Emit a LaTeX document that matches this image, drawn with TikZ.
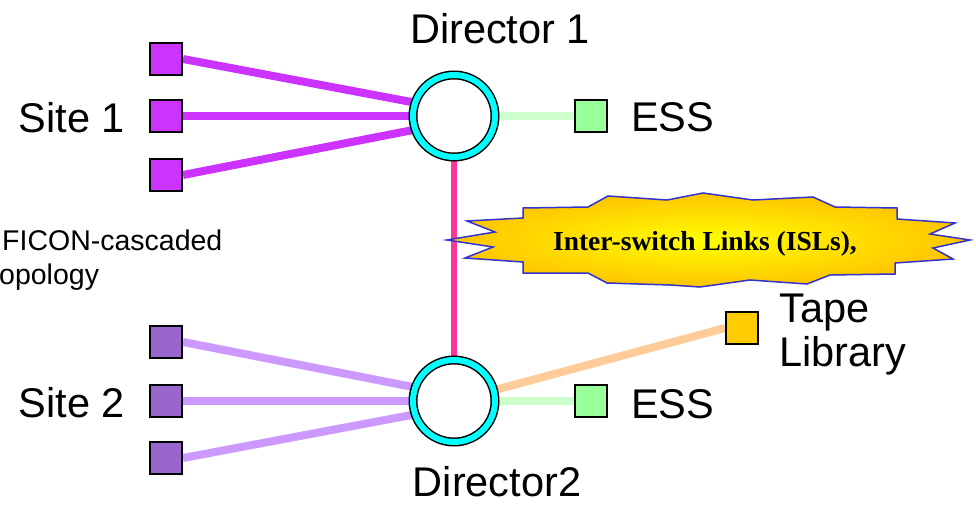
\documentclass[tikz,border=0pt]{standalone}
\usepackage{fontspec}
\setmainfont{Liberation Sans}
\newfontfamily\islfont{Liberation Serif}
\usepackage{tikz}
\usetikzlibrary{positioning}
\usetikzlibrary{backgrounds}
\definecolor{siteone}{RGB}{204,51,255}
\definecolor{sitetwo}{RGB}{153,102,204}
\definecolor{sitetwolink}{RGB}{204,153,255}
\definecolor{essfill}{RGB}{153,255,153}
\definecolor{esslink}{RGB}{204,255,204}
\definecolor{tapefill}{RGB}{255,204,0}
\definecolor{tapelink}{RGB}{255,204,153}
\definecolor{isllink}{RGB}{255,51,153}
\definecolor{ringcol}{RGB}{0,255,255}
\definecolor{starline}{RGB}{51,51,204}
\definecolor{starouter}{RGB}{255,196,0}
\definecolor{starinner}{RGB}{255,255,0}

\begin{document}
\begin{tikzpicture}[x=1pt,y=-1pt,
		port/.style={draw=black,line width=2pt,minimum size=32pt,inner sep=0pt},
		director/.style={circle,draw=black,line width=1.5pt,double=ringcol,double distance=6pt,
			fill=white,minimum size=82pt,inner sep=0pt},
		biglabel/.style={inner sep=0pt,font=\fontsize{41.5}{44}\selectfont},
		smalllabel/.style={inner sep=0pt,anchor=base west,font=\fontsize{28.5}{32}\selectfont},
		link/.style={line width=8pt}]
		\useasboundingbox (0,0) rectangle (976,505);
		
		% directors
		\node[director] (d1) at (454,116) {};
		\node[director] (d2) at (454,401) {};
		
		% site 1 and site 2 ports
		\node[port,fill=siteone] (s1a) at (166,59) {};
		\node[port,fill=siteone] (s1b) at (166,116) {};
		\node[port,fill=siteone] (s1c) at (166,175) {};
		\node[port,fill=sitetwo] (s2a) at (166,342) {};
		\node[port,fill=sitetwo] (s2b) at (166,401) {};
		\node[port,fill=sitetwo] (s2c) at (166,458) {};
		
		% storage
		\node[port,fill=essfill] (ess1) at (591,116) {};
		\node[port,fill=essfill] (ess2) at (591,401) {};
		\node[port,fill=tapefill] (tape) at (742,328) {};
		
		\begin{pgfonlayer}{background}
			\draw[link,siteone] (s1a.east) -- ([yshift=6pt]d1.center);
			\draw[link,siteone] (s1b.east) -- (d1.center);
			\draw[link,siteone] (s1c.east) -- ([yshift=-6pt]d1.center);
			\draw[link,sitetwolink] (s2a.east) -- ([yshift=6pt]d2.center);
			\draw[link,sitetwolink] (s2b.east) -- (d2.center);
			\draw[link,sitetwolink] (s2c.east) -- ([yshift=-6pt]d2.center);
			\draw[link,esslink] (d1.center) -- (ess1.west);
			\draw[link,esslink] (d2.center) -- (ess2.west);
			\draw[link,tapelink] (d2.center) -- (tape.west);
			\draw[line width=6pt,isllink] (d1.center) -- (d2.center);
		\end{pgfonlayer}
		
		% ISL burst
		\shadedraw[inner color=starinner,outer color=starouter,draw=starline,line width=1.5pt]
			(447,240) -- (495,232) -- (467,221) -- (523,218) -- (523,208) -- (588,207)
			-- (608,196) -- (667,200) -- (703,193) -- (753,200) -- (813,197) -- (835,207)
			-- (897,208) -- (897,219) -- (955,223) -- (930,234) -- (970,240) -- (933,248)
			-- (953,259) -- (895,263) -- (895,274) -- (830,275) -- (807,284) -- (750,280)
			-- (700,287) -- (670,285) -- (607,283) -- (588,273) -- (523,273) -- (523,262)
			-- (465,258) -- (493,247) -- cycle;
		\node[inner sep=0pt,anchor=base,font=\islfont\bfseries\fontsize{27.5}{30}\selectfont] (isl) at (705,250) {Inter-switch Links (ISLs),};
		
		% labels
		\node[biglabel,anchor=base] (d1lbl) at (500,44) {Director 1};
		\node[biglabel,anchor=base] (d2lbl) at (497,496) {Director2};
		\node[biglabel,anchor=base east] (site1) at (125,133) {Site 1};
		\node[biglabel,anchor=base east] (site2) at (125,417) {Site 2};
		\node[biglabel,anchor=base west] (ess1lbl) at (631,132) {ESS};
		\node[biglabel,anchor=base west] (ess2lbl) at (631,418) {ESS};
		\node[biglabel,anchor=base west] (tapelbl) at (779,322) {Tape};
		\node[biglabel,anchor=base west] (liblbl) at (779,366) {Library};
		\node[smalllabel] (ficon) at (2,250) {FICON-cascaded};
		\node[smalllabel] (topo) at (-1,284) {opology};
	\end{tikzpicture}
\end{document}
